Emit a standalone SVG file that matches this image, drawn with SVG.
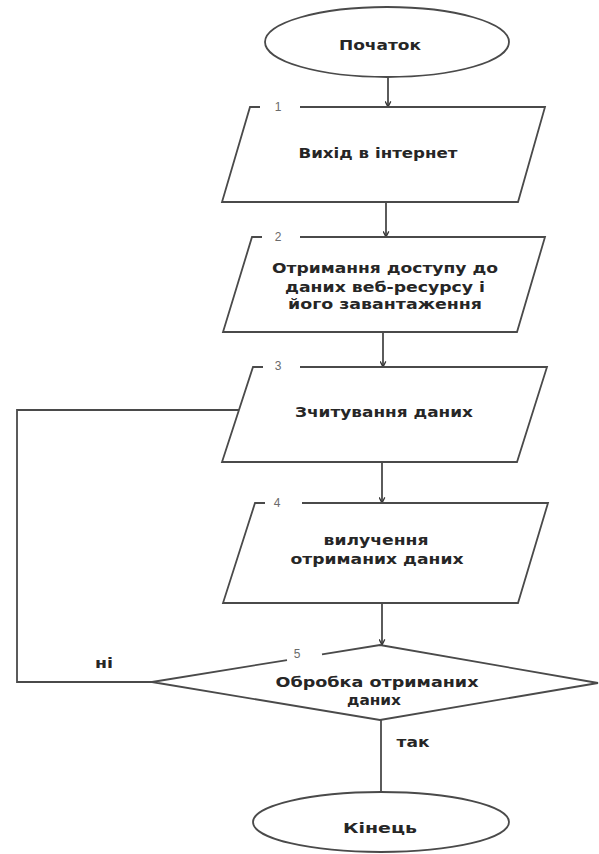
<svg xmlns="http://www.w3.org/2000/svg" width="599" height="854" viewBox="0 0 599 854">
  <style>
    .shape { fill: #ffffff; stroke: #4a4a4a; stroke-width: 1.8; }
    .edge { fill: none; stroke: #4a4a4a; stroke-width: 1.8; }
    .label { font-family: "DejaVu Sans", "Liberation Sans", sans-serif; font-weight: bold; font-size: 14.5px; fill: #262626; text-anchor: middle; }
    .num { font-family: "Liberation Sans", "DejaVu Sans", sans-serif; font-size: 12px; fill: #6a6a6a; text-anchor: middle; }
  </style>
  <defs>
    <marker id="arrow" viewBox="0 0 10 10" refX="9" refY="5" markerWidth="7" markerHeight="7" orient="auto" markerUnits="userSpaceOnUse">
      <path d="M1,1 L9,5 L1,9" fill="none" stroke="#333333" stroke-width="1.8"/>
    </marker>
  </defs>
  <rect width="599" height="854" fill="#ffffff"/>

  <!-- connectors -->
  <g id="connectors">
    <line class="edge" x1="388" y1="77" x2="388" y2="107" marker-end="url(#arrow)"/>
    <line class="edge" x1="386" y1="202" x2="386" y2="237" marker-end="url(#arrow)"/>
    <line class="edge" x1="383" y1="332" x2="383" y2="367" marker-end="url(#arrow)"/>
    <line class="edge" x1="382" y1="462" x2="382" y2="503" marker-end="url(#arrow)"/>
    <line class="edge" x1="382" y1="603" x2="382" y2="645" marker-end="url(#arrow)"/>
    <line class="edge" x1="381" y1="720" x2="381" y2="792"/>
    <polyline class="edge" points="152,682 17,682 17,410 239,410"/>
    <text class="label" x="104" y="668" textLength="18" lengthAdjust="spacingAndGlyphs">ні</text>
    <text class="label" x="413" y="747" textLength="33" lengthAdjust="spacingAndGlyphs">так</text>
  </g>

  <!-- start terminal -->
  <g id="start">
    <ellipse class="shape" cx="387" cy="42" rx="122" ry="35"/>
    <text class="label" x="380" y="50" textLength="82" lengthAdjust="spacingAndGlyphs">Початок</text>
  </g>

  <!-- step 1 -->
  <g id="step1">
    <path class="shape" d="M300,107 L545,107 L518,202 L222,202 L250,107 L260,107"/>
    <text class="num" x="278" y="111">1</text>
    <text class="label" x="378" y="158" textLength="159" lengthAdjust="spacingAndGlyphs">Вихід в інтернет</text>
  </g>

  <!-- step 2 -->
  <g id="step2">
    <path class="shape" d="M300,237 L545,237 L517,332 L223,332 L252,237 L262,237"/>
    <text class="num" x="278" y="241">2</text>
    <text class="label" x="385" y="273" textLength="226" lengthAdjust="spacingAndGlyphs">Отримання доступу до</text>
    <text class="label" x="385" y="292" textLength="200" lengthAdjust="spacingAndGlyphs">даних веб-ресурсу і</text>
    <text class="label" x="385" y="309" textLength="194" lengthAdjust="spacingAndGlyphs">його завантаження</text>
  </g>

  <!-- step 3 -->
  <g id="step3">
    <path class="shape" d="M300,367 L547,367 L517,462 L222,462 L253,367 L263,367"/>
    <text class="num" x="278" y="370">3</text>
    <text class="label" x="384" y="417" textLength="178" lengthAdjust="spacingAndGlyphs">Зчитування даних</text>
  </g>

  <!-- step 4 -->
  <g id="step4">
    <path class="shape" d="M302,503 L548,503 L518,603 L223,603 L255,503 L265,503"/>
    <text class="num" x="277" y="507">4</text>
    <text class="label" x="376" y="545" textLength="105" lengthAdjust="spacingAndGlyphs">вилучення</text>
    <text class="label" x="377" y="564" textLength="173" lengthAdjust="spacingAndGlyphs">отриманих даних</text>
  </g>

  <!-- decision 5 -->
  <g id="decision5">
    <path class="shape" d="M322,654.4 L380,645 L598,683 L380,720 L152,682 L287,660.1"/>
    <text class="num" x="297" y="658">5</text>
    <text class="label" x="377" y="687" textLength="203" lengthAdjust="spacingAndGlyphs">Обробка отриманих</text>
    <text class="label" x="374" y="705" textLength="54" lengthAdjust="spacingAndGlyphs">даних</text>
  </g>

  <!-- end terminal -->
  <g id="end">
    <ellipse class="shape" cx="381" cy="822" rx="128" ry="30"/>
    <text class="label" x="380" y="833" textLength="74" lengthAdjust="spacingAndGlyphs">Кінець</text>
  </g>
</svg>
